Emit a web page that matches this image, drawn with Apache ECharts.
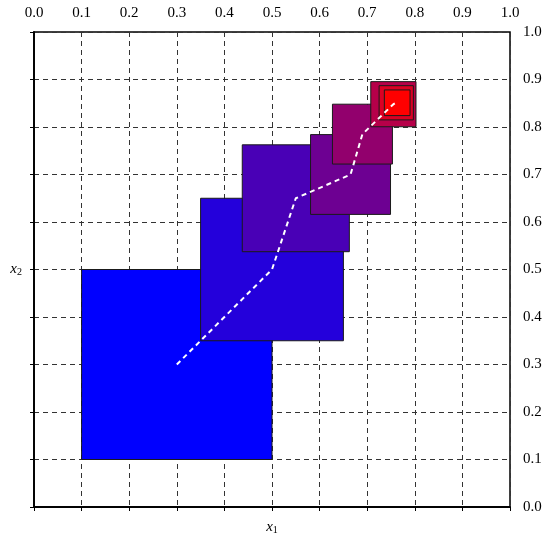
<!DOCTYPE html>
<html>
<head>
<meta charset="utf-8">
<script src="https://cdn.jsdelivr.net/npm/echarts@6/dist/echarts.min.js"></script>
<style>html,body{margin:0;padding:0;background:#fff}#c{width:550px;height:540px}</style>
</head>
<body>
<div id="c"></div>
<script>
// Trust-region iterates: centers and half-widths
var centerX = [0.30, 0.50, 0.55, 0.665, 0.69, 0.755, 0.761, 0.763];
var centerY = [0.30, 0.50, 0.65, 0.70, 0.785, 0.848, 0.851, 0.851];
var halfWidth = [0.2, 0.15, 0.1125, 0.084, 0.063, 0.0475, 0.036, 0.027];
var tickLabels = ['0.0','0.1','0.2','0.3','0.4','0.5','0.6','0.7','0.8','0.9','1.0'];

var palette = ['#0000ff','#2400db','#4900b6','#6d0092','#92006d','#b60049','#db0024','#ff0000'];

var rectData = centerX.map(function (x, i) { return [x, centerY[i], halfWidth[i], i]; });
var pathData = centerX.map(function (x, i) { return [x, centerY[i]]; });

var font = 'Liberation Serif';
var chart = echarts.init(document.getElementById('c'), null, {renderer: 'canvas'});
var gridLine = {show: true, lineStyle: {color: '#333', type: [5, 4], width: 1}};
chart.setOption({
  animation: false,
  grid: {left: 34, right: 40, top: 32, bottom: 32, show: true, borderColor: '#000', borderWidth: 1.5, backgroundColor: 'transparent'},
  xAxis: [{
    type: 'value', position: 'top', min: 0, max: 1, interval: 0.1,
    axisLine: {show: true, lineStyle: {color: '#000', width: 1.5}},
    axisTick: {show: true, inside: true, length: 4, lineStyle: {color: '#000'}},
    axisLabel: {fontFamily: font, fontSize: 15, color: '#000', margin: 11,
      formatter: function (v) { return tickLabels[Math.round(v * 10)]; }},
    splitLine: gridLine
  }, {
    type: 'value', position: 'bottom', min: 0, max: 1, interval: 0.1,
    axisLine: {show: true, lineStyle: {color: '#000', width: 1.5}},
    axisTick: {show: false}, axisLabel: {show: false}, splitLine: {show: false},
    name: '{i|x}{s|1}', nameLocation: 'middle', nameGap: 12,
    nameTextStyle: {rich: {i: {fontFamily: font, fontStyle: 'italic', fontSize: 15, color: '#000'},
                           s: {fontFamily: font, fontSize: 10, color: '#000', verticalAlign: 'bottom', padding: [6, 0, 0, 0]}}}
  }],
  yAxis: [{
    type: 'value', position: 'right', min: 0, max: 1, interval: 0.1,
    axisLine: {show: true, lineStyle: {color: '#000', width: 1.5}},
    axisTick: {show: true, inside: true, length: 4, lineStyle: {color: '#000'}},
    axisLabel: {fontFamily: font, fontSize: 15, color: '#000', margin: 13,
      formatter: function (v) { return tickLabels[Math.round(v * 10)]; }},
    splitLine: gridLine
  }, {
    type: 'value', position: 'left', min: 0, max: 1, interval: 0.1,
    axisLine: {show: true, lineStyle: {color: '#000', width: 1.5}},
    axisTick: {show: false}, axisLabel: {show: false}, splitLine: {show: false},
    name: '{i|x}{s|2}', nameLocation: 'middle', nameGap: 12, nameRotate: 0,
    nameTextStyle: {rich: {i: {fontFamily: font, fontStyle: 'italic', fontSize: 15, color: '#000'},
                           s: {fontFamily: font, fontSize: 10, color: '#000', verticalAlign: 'bottom', padding: [6, 0, 0, 0]}}}
  }],
  series: [{
    type: 'custom', xAxisIndex: 0, yAxisIndex: 0, z: 3,
    data: rectData,
    renderItem: function (params, api) {
      var cx = api.value(0), cy = api.value(1), h = api.value(2), idx = api.value(3);
      var p1 = api.coord([cx - h, cy + h]);
      var p2 = api.coord([cx + h, cy - h]);
      return {type: 'rect', shape: {x: p1[0], y: p1[1], width: p2[0] - p1[0], height: p2[1] - p1[1]},
              style: {fill: palette[idx], stroke: '#1a1a1a', lineWidth: 1}};
    }
  }, {
    type: 'line', xAxisIndex: 0, yAxisIndex: 0, z: 4,
    data: pathData, symbol: 'none', smooth: false,
    lineStyle: {color: '#fff', width: 2, type: [5, 4]}
  }]
});
</script>
</body>
</html>
